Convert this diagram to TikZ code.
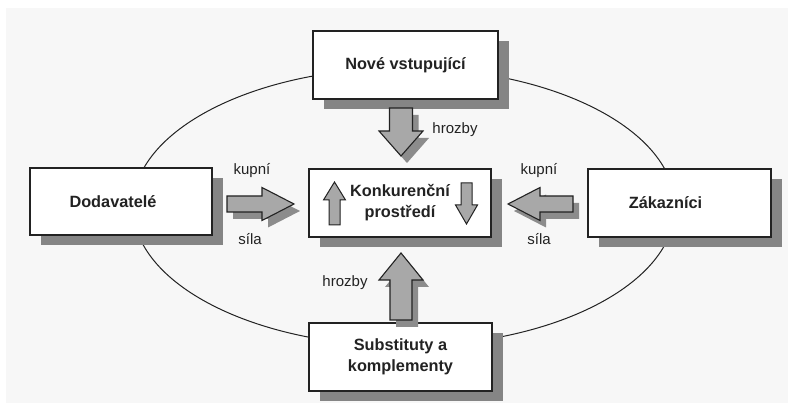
\documentclass[tikz,border=0pt]{standalone}
\usepackage{fontspec}
\setmainfont{Liberation Sans}
\usetikzlibrary{shadows}
\definecolor{bggray}{HTML}{F7F7F7}
\definecolor{boxshadow}{HTML}{858585}
\definecolor{arrowfill}{HTML}{A8A8A8}
\definecolor{arrowshade}{HTML}{8C8C8C}
\definecolor{inkdark}{HTML}{222222}
\tikzset{
  box/.style={draw=inkdark, line width=1.5pt, fill=white, inner sep=0pt,
    align=center, font=\fontsize{16.3}{21}\selectfont\bfseries, text=inkdark,
    general shadow={fill=boxshadow, shadow xshift=11pt, shadow yshift=-10pt}},
  lbl/.style={font=\fontsize{15}{17}\selectfont, text=inkdark, inner sep=0pt},
  arrowbody/.style={fill=arrowfill, draw=inkdark, line width=1.1pt, line join=miter},
  arrowshadow/.style={fill=arrowshade},
  pics/barrow/.style n args={6}{code={
    \fill[arrowshadow, shift={(#5,#6)}] (0,-#3) -- (#1-#2,-#3) -- (#1-#2,-#4) -- (#1,0) -- (#1-#2,#4) -- (#1-#2,#3) -- (0,#3) -- cycle;
    \draw[arrowbody] (0,-#3) -- (#1-#2,-#3) -- (#1-#2,-#4) -- (#1,0) -- (#1-#2,#4) -- (#1-#2,#3) -- (0,#3) -- cycle;
  }},
  pics/sarrow/.style n args={4}{code={
    \draw[arrowbody, line width=1pt] (0,-#3) -- (#1-#2,-#3) -- (#1-#2,-#4) -- (#1,0) -- (#1-#2,#4) -- (#1-#2,#3) -- (0,#3) -- cycle;
  }}
}
\begin{document}
\begin{tikzpicture}[x=1pt,y=1pt]
\useasboundingbox (0,0) rectangle (793,410);
\fill[white] (0,0) rectangle (793,410);
\fill[bggray] (6,7) rectangle (788,402);

% ellipse behind the boxes
\draw[inkdark, line width=1pt] (404,203) ellipse [x radius=271pt, y radius=139pt];

% boxes
\node[box, minimum width=185pt, minimum height=68pt] (nove) at (405.5,345) {Nové vstupující};
\node[box, minimum width=182pt, minimum height=67pt] (dod) at (121,208.5) {\kern-16pt Dodavatelé};
\node[box, minimum width=183pt, minimum height=68pt] (zak) at (679.5,207) {\kern-28pt Zákazníci};
\node[box, minimum width=182pt, minimum height=68pt] (konk) at (400,207) {Konkurenční\\prostředí};
\node[box, minimum width=183pt, minimum height=68pt] (subst) at (400.5,53) {Substituty a\\komplementy};

% block arrows
\pic[rotate=-90] (atop) at (401,302) {barrow={48}{25}{11.5}{22}{7}{6}};
\pic[rotate=90] (abot) at (401,90) {barrow={67}{27}{11}{22}{-7}{-6}};
\pic (aleft) at (227,206) {barrow={67}{32}{8}{16.5}{6}{-7}};
\pic[rotate=180] (aright) at (573,206) {barrow={65}{32}{8}{16.5}{-6}{7}};

% small arrows inside the central box
\pic[rotate=90] (sup) at (334.5,185) {sarrow={43}{18}{5.5}{11}};
\pic[rotate=-90] (sdown) at (466.5,227) {sarrow={41}{19}{5.5}{11}};

% labels
\node[lbl] (l1) at (455,280) {hrozby};
\node[lbl] (l2) at (345,127) {hrozby};
\node[lbl] (l3) at (252,239) {kupní};
\node[lbl] (l4) at (250,171) {síla};
\node[lbl] (l5) at (539,239) {kupní};
\node[lbl] (l6) at (539,171) {síla};
\end{tikzpicture}
\end{document}
